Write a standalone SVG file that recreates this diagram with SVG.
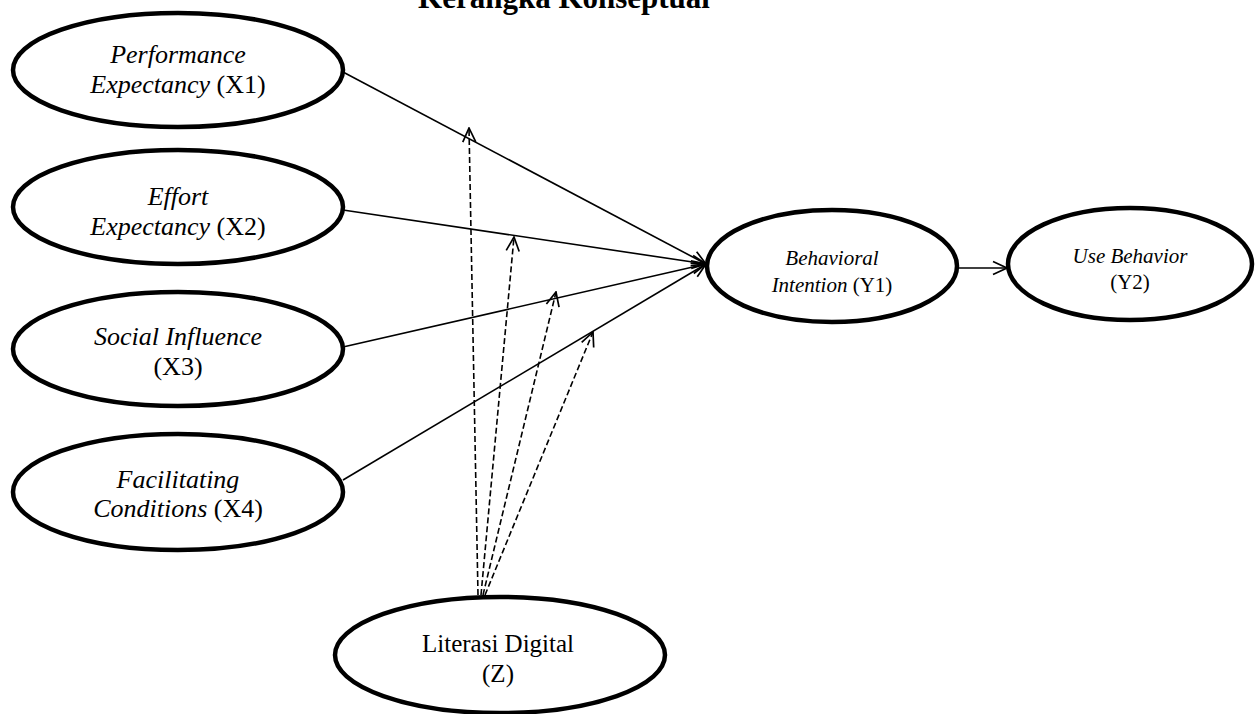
<svg xmlns="http://www.w3.org/2000/svg" width="1257" height="714" viewBox="0 0 1257 714">
<style>
.node{fill:#fff;stroke:#000;stroke-width:4.5}
.t{font-family:"Liberation Serif","Times New Roman",serif;fill:#000;text-anchor:middle}
.lg{font-size:26px}
.sm{font-size:21px}
.i{font-style:italic}
.solid{stroke:#000;stroke-width:1.6;fill:none}
.dash{stroke:#000;stroke-width:1.6;fill:none;stroke-dasharray:6 3}
</style>
<defs>
<marker id="arr" viewBox="0 0 16 16" markerWidth="16" markerHeight="16" refX="15" refY="8" orient="auto" markerUnits="userSpaceOnUse">
<path d="M1,1.5 L15,8 L1,14.5" fill="none" stroke="#000" stroke-width="1.7" stroke-dasharray="none"/>
</marker>
</defs>
<text class="t" x="564" y="8" style="font-size:31px;font-weight:bold">Kerangka Konseptual</text>
<g id="connectors">
<line class="solid" x1="343" y1="72" x2="706" y2="264" marker-end="url(#arr)"/>
<line class="solid" x1="343" y1="210" x2="706" y2="264" marker-end="url(#arr)"/>
<line class="solid" x1="343" y1="347" x2="706" y2="264" marker-end="url(#arr)"/>
<line class="solid" x1="343" y1="480" x2="706" y2="264" marker-end="url(#arr)"/>
<line class="solid" x1="958" y1="268" x2="1007" y2="268" marker-end="url(#arr)"/>
<line class="dash" x1="478" y1="595" x2="469" y2="128" marker-end="url(#arr)"/>
<line class="dash" x1="481" y1="595" x2="514" y2="237" marker-end="url(#arr)"/>
<line class="dash" x1="483" y1="595" x2="556" y2="292" marker-end="url(#arr)"/>
<line class="dash" x1="485" y1="595" x2="593" y2="332" marker-end="url(#arr)"/>
</g>
<g id="X1">
<ellipse class="node" cx="178" cy="70" rx="165" ry="57"/>
<text class="t lg i" x="178" y="63">Performance</text>
<text class="t lg" x="178" y="93"><tspan class="i">Expectancy</tspan> (X1)</text>
</g>
<g id="X2">
<ellipse class="node" cx="178" cy="207" rx="165" ry="57"/>
<text class="t lg i" x="178" y="205">Effort</text>
<text class="t lg" x="178" y="235"><tspan class="i">Expectancy</tspan> (X2)</text>
</g>
<g id="X3">
<ellipse class="node" cx="178" cy="349" rx="165" ry="57"/>
<text class="t lg i" x="178" y="345">Social Influence</text>
<text class="t lg" x="178" y="375">(X3)</text>
</g>
<g id="X4">
<ellipse class="node" cx="178" cy="492" rx="165" ry="58"/>
<text class="t lg i" x="178" y="488">Facilitating</text>
<text class="t lg" x="178" y="517"><tspan class="i">Conditions</tspan> (X4)</text>
</g>
<g id="Y1">
<ellipse class="node" cx="832" cy="266" rx="125" ry="56"/>
<text class="t sm i" x="832" y="265">Behavioral</text>
<text class="t sm" x="832" y="292"><tspan class="i">Intention</tspan> (Y1)</text>
</g>
<g id="Y2">
<ellipse class="node" cx="1130" cy="264" rx="122" ry="56"/>
<text class="t sm i" x="1130" y="263">Use Behavior</text>
<text class="t sm" x="1130" y="289">(Y2)</text>
</g>
<g id="Z">
<ellipse class="node" cx="500" cy="655" rx="165" ry="58"/>
<text class="t" x="498" y="652" style="font-size:25px">Literasi Digital</text>
<text class="t" x="498" y="682" style="font-size:25px">(Z)</text>
</g>
</svg>
